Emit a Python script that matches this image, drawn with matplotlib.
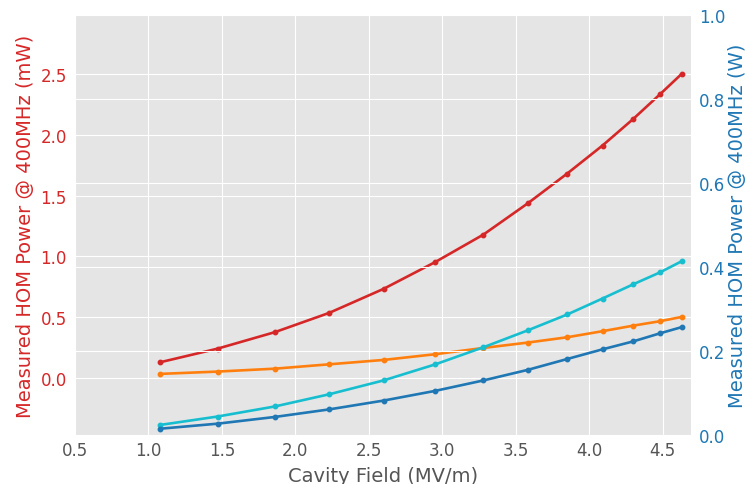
import matplotlib
matplotlib.use('Agg')
import matplotlib.pyplot as plt

plt.style.use('ggplot')
plt.rcParams['font.family'] = ['DejaVu Sans']

# Cavity field (MV/m)
cavity_field = [1.08, 1.47, 1.86, 2.23, 2.60, 2.95, 3.28, 3.58, 3.85, 4.09, 4.30, 4.48, 4.63]

# Left axis (mW)
power_red = [0.127, 0.239, 0.375, 0.534, 0.732, 0.952, 1.18, 1.436, 1.683, 1.914, 2.134, 2.335, 2.506]
power_orange = [0.031, 0.050, 0.074, 0.110, 0.146, 0.193, 0.245, 0.289, 0.333, 0.383, 0.429, 0.465, 0.501]

# Right axis (W)
power_cyan = [0.024, 0.044, 0.068, 0.097, 0.130, 0.168, 0.209, 0.249, 0.287, 0.325, 0.359, 0.387, 0.414]
power_blue = [0.015, 0.027, 0.043, 0.061, 0.082, 0.105, 0.130, 0.155, 0.181, 0.204, 0.223, 0.242, 0.257]

left_color = '#d62728'
right_color = '#1f77b4'

fig = plt.figure(figsize=(7.47, 4.85), dpi=100)
ax = fig.add_axes([0.1004, 0.101, 0.8242, 0.866])
ax2 = ax.twinx()

line_kw = dict(marker='o', markersize=3.2, linewidth=1.9)
ax.plot(cavity_field, power_red, color='#d62728', **line_kw)
ax.plot(cavity_field, power_orange, color='#ff7f0e', **line_kw)
ax2.plot(cavity_field, power_cyan, color='#17becf', **line_kw)
ax2.plot(cavity_field, power_blue, color='#1f77b4', **line_kw)

ax.set_xlim(0.5, 4.69)
ax.set_ylim(-0.473, 2.99)
ax.set_yticks([0.0, 0.5, 1.0, 1.5, 2.0, 2.5])
ax2.set_ylim(0, 1.0)
ax2.set_yticks([0.0, 0.2, 0.4, 0.6, 0.8, 1.0])

ax.set_xticks([0.5, 1.0, 1.5, 2.0, 2.5, 3.0, 3.5, 4.0, 4.5])

ax.set_xlabel('Cavity Field (MV/m)', fontsize=14, color='#555555', labelpad=5)
ax.set_ylabel('Measured HOM Power @ 400MHz (mW)', fontsize=14, color=left_color, labelpad=4)
ax2.set_ylabel('Measured HOM Power @ 400MHz (W)', fontsize=14, color=right_color, labelpad=2)

ax.tick_params(axis='x', labelsize=12, colors='#555555', length=0, pad=4)
ax.tick_params(axis='y', labelsize=12, colors=left_color, length=0, pad=6)
ax2.tick_params(axis='y', labelsize=12, colors=right_color, length=0, pad=6)

ax2.grid(True, color='white')
for a in (ax, ax2):
    for spine in a.spines.values():
        spine.set_visible(False)

fig.savefig('out.png', dpi=100)
